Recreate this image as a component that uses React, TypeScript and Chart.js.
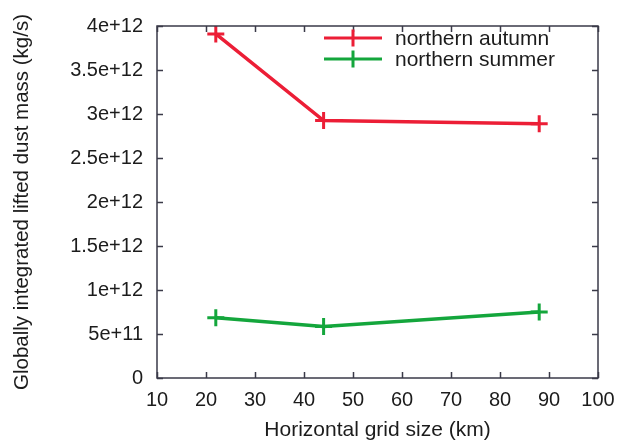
import React, { useEffect, useRef } from "react";
import { Chart, registerables } from "chart.js";

Chart.register(...registerables);

const gridSizes = [22, 44, 88];
const autumnValues = [3.91e12, 2.925e12, 2.89e12];
const summerValues = [6.85e11, 5.85e11, 7.5e11];
const seriesLabels = ["northern autumn", "northern summer"];
const xTitle = "Horizontal grid size (km)";
const yTitle = "Globally integrated lifted dust mass (kg/s)";

const RED = "rgb(236,30,54)";
const GREEN = "rgb(20,166,60)";
const AXIS = "#3a3a48";
const TEXT = "#1c1c1c";
const FONT = "'Liberation Sans', Arial, Helvetica, sans-serif";

const framePlugin = {
  id: "frameAndLegend",
  afterDraw(chart: any) {
    const ctx = chart.ctx;
    const { left, right, top, bottom } = chart.chartArea;
    const xs = chart.scales.x;
    const ys = chart.scales.y;
    ctx.save();
    ctx.strokeStyle = AXIS;
    ctx.lineWidth = 1.5;
    ctx.strokeRect(left, top, right - left, bottom - top);
    const tl = 6;
    ctx.beginPath();
    xs.ticks.forEach((t: any) => {
      const px = Math.round(xs.getPixelForValue(t.value)) + 0.5;
      ctx.moveTo(px, bottom);
      ctx.lineTo(px, bottom - tl);
      ctx.moveTo(px, top);
      ctx.lineTo(px, top + tl);
    });
    ys.ticks.forEach((t: any) => {
      const py = Math.round(ys.getPixelForValue(t.value)) + 0.5;
      ctx.moveTo(left, py);
      ctx.lineTo(left + tl, py);
      ctx.moveTo(right, py);
      ctx.lineTo(right - tl, py);
    });
    ctx.stroke();

    // legend
    const lx0 = 324;
    const lx1 = 382;
    const ly0 = 38;
    const dy = 21;
    ctx.font = `21px ${FONT}`;
    ctx.textBaseline = "middle";
    ctx.textAlign = "left";
    chart.data.datasets.forEach((ds: any, i: number) => {
      const y = ly0 + i * dy;
      ctx.strokeStyle = ds.borderColor;
      ctx.lineWidth = 3;
      ctx.beginPath();
      ctx.moveTo(lx0, y);
      ctx.lineTo(lx1, y);
      const cx = (lx0 + lx1) / 2;
      ctx.moveTo(cx, y - 8.5);
      ctx.lineTo(cx, y + 8.5);
      ctx.stroke();
      ctx.fillStyle = TEXT;
      ctx.fillText(ds.label, 395, y + 1);
    });
    ctx.restore();
  },
};

export default function App() {
  const ref = useRef<HTMLCanvasElement | null>(null);
  useEffect(() => {
    if (!ref.current) return;
    const mk = (vals: number[]) => gridSizes.map((x, i) => ({ x, y: vals[i] }));
    const chart = new Chart(ref.current, {
      type: "line",
      data: {
        datasets: [
          {
            label: seriesLabels[0],
            data: mk(autumnValues),
            borderColor: RED,
            backgroundColor: RED,
            borderWidth: 3.5,
            pointStyle: "cross",
            pointRadius: 8.5,
            pointBorderWidth: 3,
            pointBorderColor: RED,
            fill: false,
            tension: 0,
          },
          {
            label: seriesLabels[1],
            data: mk(summerValues),
            borderColor: GREEN,
            backgroundColor: GREEN,
            borderWidth: 3.5,
            pointStyle: "cross",
            pointRadius: 8.5,
            pointBorderWidth: 3,
            pointBorderColor: GREEN,
            fill: false,
            tension: 0,
          },
        ],
      },
      options: {
        animation: false,
        responsive: true,
        maintainAspectRatio: false,
        layout: { padding: { left: 0, top: 21, right: 30, bottom: 0 } },
        plugins: {
          legend: { display: false },
          tooltip: { enabled: false },
          title: { display: false },
        },
        scales: {
          x: {
            type: "linear",
            min: 10,
            max: 100,
            grid: { display: false, drawTicks: false },
            border: { display: false },
            ticks: {
              stepSize: 10,
              padding: 10,
              color: TEXT,
              font: { family: FONT, size: 20 },
              maxRotation: 0,
              autoSkip: false,
            },
            title: {
              display: true,
              text: xTitle,
              color: TEXT,
              font: { family: FONT, size: 21 },
              padding: { top: 0, bottom: 2 },
            },
            afterFit: (s: any) => {
              s.height = 67;
            },
          },
          y: {
            type: "linear",
            min: 0,
            max: 4e12,
            grid: { display: false, drawTicks: false },
            border: { display: false },
            ticks: {
              stepSize: 5e11,
              padding: 14,
              color: TEXT,
              font: { family: FONT, size: 20 },
              callback: (v: any) => (Number(v) === 0 ? "0" : Number(v).toExponential()),
            },
            title: {
              display: true,
              text: yTitle,
              color: TEXT,
              font: { family: FONT, size: 20.5 },
              padding: { top: 10, bottom: 0 },
            },
            afterFit: (s: any) => {
              s.width = 157;
            },
          },
        },
      },
      plugins: [framePlugin],
    });
    return () => chart.destroy();
  }, []);
  return (
    <div style={{ position: "fixed", left: 0, top: 0, width: 628, height: 445, background: "#fff" }}>
      <canvas ref={ref} />
    </div>
  );
}
